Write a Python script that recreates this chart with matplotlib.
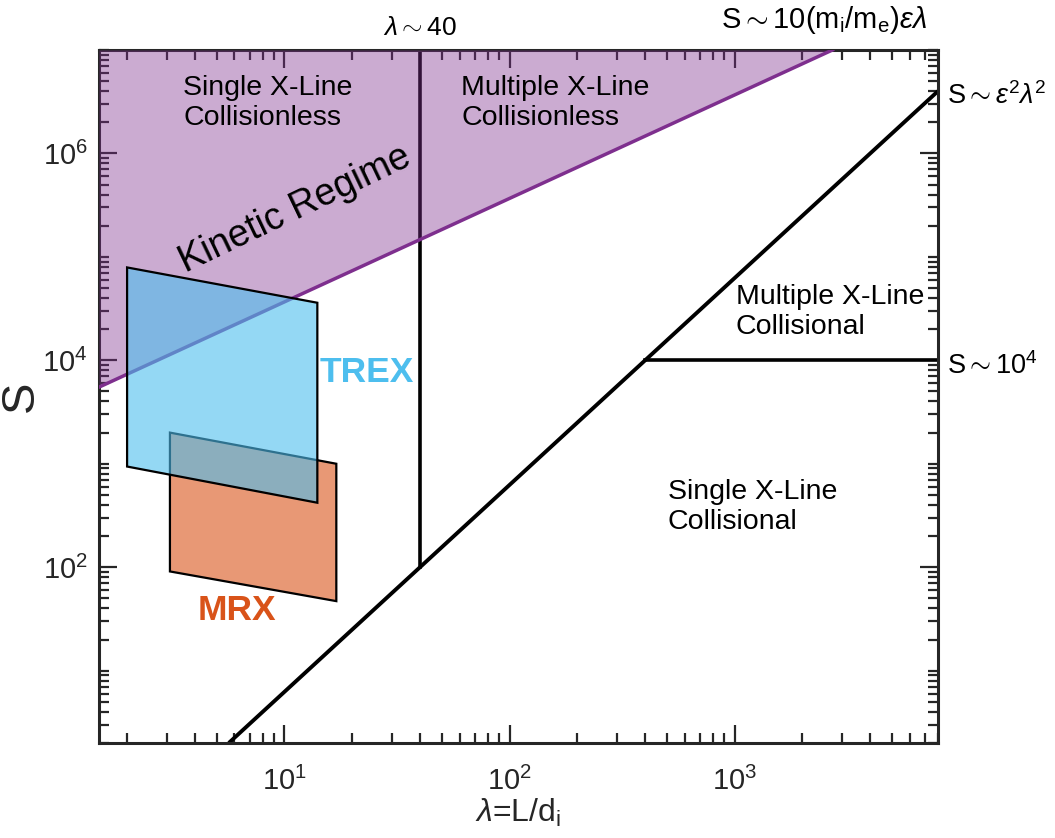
import matplotlib
matplotlib.use("Agg")
import matplotlib.pyplot as plt
import matplotlib.ticker as mticker
from matplotlib.patches import Polygon
from matplotlib.transforms import blended_transform_factory
import numpy as np

plt.rcParams["font.family"] = ["Liberation Sans", "DejaVu Sans"]
plt.rcParams["mathtext.fontset"] = "custom"
plt.rcParams["mathtext.rm"] = "Liberation Sans"
plt.rcParams["mathtext.it"] = "Liberation Sans:italic"
plt.rcParams["mathtext.bf"] = "Liberation Sans:bold"

# axis ranges
lam_range = [1.5, 8000]
S_range = [2, 1e7]

# regime boundaries (lambda, S)
kinetic_lam = [1.5, 2720]
kinetic_S = [5.5e3, 1.0e7]
coll_lam = [5.66, 8000]
coll_S = [2.0, 4.0e6]
plasmoid_lam = [40, 40]
plasmoid_S = [100, 1.0e7]
sweet_lam = [400, 8000]
sweet_S = [1.0e4, 1.0e4]

# experiment parameter ranges
trex_lam = [2.0, 14.0, 14.0, 2.0]
trex_S = [7.9e4, 3.6e4, 420, 940]
mrx_lam = [3.1, 17.0, 17.0, 3.1]
mrx_S = [2000, 1000, 47, 91]

purple = (0.494, 0.184, 0.556)
blue = (0.301, 0.745, 0.933)
orange = (0.850, 0.325, 0.098)
axcol = "#262626"

fig = plt.figure(figsize=(10.55, 8.38), dpi=100)
ax = fig.add_axes([0.0938, 0.1134, 0.7953, 0.8270])
ax.set_xscale("log")
ax.set_yscale("log")
ax.set_xlim(lam_range)
ax.set_ylim(S_range)

# boundary lines
ax.plot(plasmoid_lam, plasmoid_S, color="k", lw=2.6, zorder=2)
ax.plot(coll_lam, coll_S, color="k", lw=2.8, zorder=2, solid_capstyle="butt")
ax.plot(sweet_lam, sweet_S, color="k", lw=2.6, zorder=2)

# kinetic regime shading
ax.fill_between(kinetic_lam, kinetic_S, S_range[1], color=purple, alpha=0.4,
                lw=0, zorder=3)
ax.plot(kinetic_lam, kinetic_S, color=purple, lw=2.5, zorder=3.5)

# experiments
ax.add_patch(Polygon(np.column_stack([mrx_lam, mrx_S]), closed=True,
                     facecolor=orange + (0.6,), edgecolor="k", lw=1.6, zorder=4))
ax.add_patch(Polygon(np.column_stack([trex_lam, trex_S]), closed=True,
                     facecolor=blue + (0.6,), edgecolor="k", lw=1.6, zorder=5))

# ticks
ax.xaxis.set_major_locator(mticker.LogLocator(base=10, numticks=10))
ax.xaxis.set_minor_locator(mticker.LogLocator(base=10, subs=np.arange(2, 10), numticks=20))
ax.yaxis.set_major_locator(mticker.FixedLocator([1e2, 1e4, 1e6]))
ax.yaxis.set_major_formatter(mticker.LogFormatterMathtext())
ax.yaxis.set_minor_locator(mticker.LogLocator(base=10, subs=np.arange(1, 10), numticks=20))
ax.yaxis.set_minor_formatter(mticker.NullFormatter())
ax.xaxis.set_minor_formatter(mticker.NullFormatter())
ax.tick_params(which="both", direction="in", top=True, right=True,
               color=axcol, width=1.6, labelcolor=axcol, labelsize=21)
ax.tick_params(which="major", length=13)
ax.tick_params(which="minor", length=7)
ax.tick_params(axis="x", pad=17)
ax.tick_params(axis="y", pad=8)
for sp in ax.spines.values():
    sp.set_linewidth(2.2)
    sp.set_color(axcol)

ax.set_xlabel(r"$\lambda$=L/d$_{\mathrm{i}}$", fontsize=23, color=axcol, labelpad=1)
ax.set_ylabel("S", fontsize=34, color=axcol, labelpad=0)

# region labels
tfs = 20.5
ax.text(3.56, 3.1e6, "Single X-Line\nCollisionless", fontsize=tfs, ha="left", va="center", zorder=6)
ax.text(61, 3.1e6, "Multiple X-Line\nCollisionless", fontsize=tfs, ha="left", va="center", zorder=6)
ax.text(1010, 2.9e4, "Multiple X-Line\nCollisional", fontsize=tfs, ha="left", va="center", zorder=6)
ax.text(504, 385, "Single X-Line\nCollisional", fontsize=tfs, ha="left", va="center", zorder=6)
ax.text(11.2, 2.9e5, "Kinetic Regime", fontsize=27, rotation=25.5, ha="center", va="center",
        rotation_mode="anchor", zorder=6)
ax.text(14.3, 7650, "TREX", fontsize=25.5, fontweight="bold", color=blue, ha="left", va="center", zorder=6)
ax.text(4.1, 38, "MRX", fontsize=25.5, fontweight="bold", color=orange, ha="left", va="center", zorder=6)

# boundary annotations outside the axes
top = blended_transform_factory(ax.transData, ax.transAxes)
side = blended_transform_factory(ax.transAxes, ax.transData)
ax.text(40, 1.0216, r"$\lambda\sim$40", fontsize=19, ha="center", va="baseline", transform=top)
ax.text(2486, 1.0317, r"S$\sim$10(m$_{\mathrm{i}}$/m$_{\mathrm{e}}$)$\epsilon\lambda$",
        fontsize=21, ha="center", va="baseline", transform=top)
ax.text(1.0107, 3.6e6, r"S$\sim\epsilon^{2}\lambda^{2}$", fontsize=19.5, ha="left", va="center", transform=side)
ax.text(1.0107, 8750, r"S$\sim$10$^{4}$", fontsize=19.5, ha="left", va="center", transform=side)

fig.savefig("out.png", dpi=100)
